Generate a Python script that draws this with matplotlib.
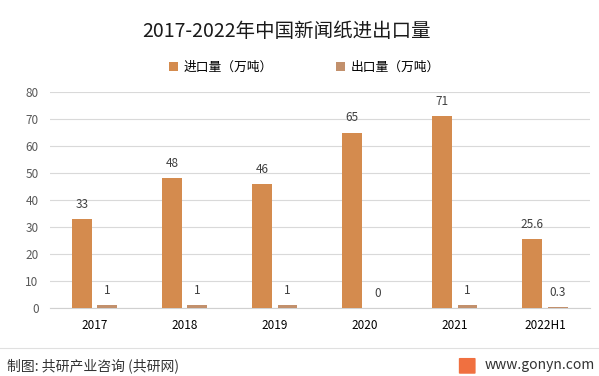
import numpy as np
import matplotlib.pyplot as plt
from matplotlib.patches import FancyBboxPatch

plt.rcParams['font.family'] = ['Noto Sans CJK SC', 'DejaVu Sans']

# Datos del gráfico
categorias = ['2017', '2018', '2019', '2020', '2021', '2022H1']
importaciones = [33, 48, 46, 65, 71, 25.6]
exportaciones = [1, 1, 1, 0, 1, 0.3]
etiquetas_imp = ['33', '48', '46', '65', '71', '25.6']
etiquetas_exp = ['1', '1', '1', '0', '1', '0.3']

color_imp = '#D48B4E'
color_exp = '#C2906C'

fig = plt.figure(figsize=(5.99, 3.76), dpi=100)
ax = fig.add_axes([0.083, 0.181, 0.902, 0.574])

x = np.arange(len(categorias))
ancho = 0.22
b1 = ax.bar(x - 0.14, importaciones, ancho, color=color_imp, label='进口量（万吨）', zorder=3)
b2 = ax.bar(x + 0.14, exportaciones, ancho, color=color_exp, label='出口量（万吨）', zorder=3)

for rect, txt in zip(b1, etiquetas_imp):
    ax.text(rect.get_x() + rect.get_width() / 2, rect.get_height() + 3, txt,
            ha='center', va='bottom', fontsize=8.5, color='#404040')
for rect, txt in zip(b2, etiquetas_exp):
    ax.text(rect.get_x() + rect.get_width() / 2, rect.get_height() + 3, txt,
            ha='center', va='bottom', fontsize=8.5, color='#404040')

ax.set_xlim(-0.5, len(categorias) - 0.5)
ax.set_ylim(0, 80)
ax.set_yticks(np.arange(0, 81, 10))
ax.set_xticks(x)
ax.set_xticklabels(categorias, fontsize=8.5, color='#000000')
ax.tick_params(axis='y', labelsize=8.5, colors='#595959', length=0, pad=8)
ax.tick_params(axis='x', length=0, pad=8)
ax.grid(axis='y', color='#D9D9D9', linewidth=0.8, zorder=0)
for lado in ['top', 'right', 'left']:
    ax.spines[lado].set_visible(False)
ax.spines['bottom'].set_color('#D0D0D0')

fig.text(0.478, 0.915, '2017-2022年中国新闻纸进出口量', ha='center', va='center',
         fontsize=14, color='#1a1a1a')

fig.legend(handles=[b1, b2], loc='center', bbox_to_anchor=(0.508, 0.82), ncol=2,
           frameon=False, fontsize=9.2, handlelength=0.7, handleheight=0.7,
           columnspacing=5.0, handletextpad=0.4)

# Línea separadora y pie
fig.add_artist(plt.Line2D([0.0, 1.0], [0.074, 0.074],
                          transform=fig.transFigure, color='#E0E0E0', linewidth=0.8))
fig.text(0.012, 0.028, '制图: 共研产业咨询 (共研网)', ha='left', va='center',
         fontsize=10, color='#333333')
fig.text(0.993, 0.028, 'www.gonyn.com', ha='right', va='center',
         fontsize=10, color='#333333')
logo = FancyBboxPatch((0.768, 0.008), 0.024, 0.038, boxstyle='round,pad=0.002',
                      transform=fig.transFigure, facecolor='#F07040', edgecolor='none')
fig.add_artist(logo)

fig.savefig('out.png', dpi=100)
